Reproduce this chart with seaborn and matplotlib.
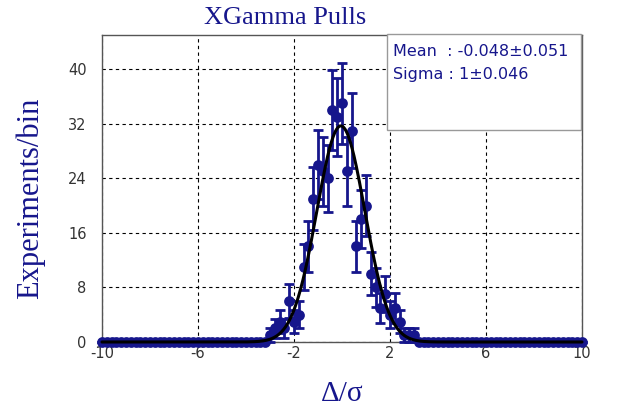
import numpy as np
import pandas as pd
import matplotlib
matplotlib.use("Agg")
import matplotlib.pyplot as plt
import seaborn as sns

# ---- data ----
bin_low = -10.0
bin_high = 10.0
n_points = 101
counts = [
    0, 0, 0, 0, 0, 0, 0, 0, 0, 0,
    0, 0, 0, 0, 0, 0, 0, 0, 0, 0,
    0, 0, 0, 0, 0, 0, 0, 0, 0, 0,
    0, 0, 0, 0, 0,
    1, 2, 3, 2, 6, 3, 4, 11, 14, 21, 26, 25, 24, 34, 33,
    35,
    25, 31, 14, 18, 20, 10, 8, 5, 7, 4, 5, 3, 1, 1, 1,
    0, 0, 0, 0, 0,
    0, 0, 0, 0, 0, 0, 0, 0, 0, 0,
    0, 0, 0, 0, 0, 0, 0, 0, 0, 0,
    0, 0, 0, 0, 0, 0, 0, 0, 0, 0,
]
fit_mean = -0.048
fit_mean_err = 0.051
fit_sigma = 1.0
fit_sigma_err = 0.046
bin_width = 0.2
x_ticks = [-10, -6, -2, 2, 6, 10]
y_ticks = [0, 8, 16, 24, 32, 40]
title = "XGamma Pulls"
x_label = "Δ/σ"
y_label = "Experiments/bin"

centers = np.linspace(bin_low, bin_high, n_points)
df = pd.DataFrame({"x": centers, "n": counts})
df["err"] = np.sqrt(df["n"])

total = float(np.sum(counts))
amp = total * bin_width / (np.sqrt(2 * np.pi) * fit_sigma)
xf = np.linspace(bin_low, bin_high, 801)
fit_df = pd.DataFrame({"x": xf,
                       "y": amp * np.exp(-0.5 * ((xf - fit_mean) / fit_sigma) ** 2)})

# ---- style ----
sns.set_style("white")
plt.rcParams["font.family"] = ["DejaVu Sans"]
navy = "#16168c"

fig = plt.figure(figsize=(6.24, 4.17), dpi=100)
ax = fig.add_axes([102 / 624, 1 - 342 / 417, 480 / 624, 307 / 417])

ax.errorbar(df["x"], df["n"], yerr=df["err"], fmt="none", ecolor=navy,
            elinewidth=2.0, capsize=3.5, capthick=2.0, zorder=3, clip_on=False)
sns.scatterplot(data=df, x="x", y="n", ax=ax, color=navy, s=60,
                edgecolor=navy, linewidth=0, zorder=4, clip_on=False, legend=False)
sns.lineplot(data=fit_df, x="x", y="y", ax=ax, color="black", linewidth=2.2,
             zorder=5, clip_on=False)

ax.set_xlim(bin_low, bin_high)
ax.set_ylim(0, 45)
ax.set_xticks(x_ticks)
ax.set_yticks(y_ticks)
ax.set_xticklabels([str(t) for t in x_ticks])
ax.set_yticklabels([str(t) for t in y_ticks])
ax.tick_params(axis="both", length=0, labelsize=10.5, labelcolor="#333333", pad=3)
ax.tick_params(axis="y", pad=11)
ax.grid(True, color="black", linestyle=(0, (3, 3)), linewidth=0.8)
ax.set_axisbelow(True)
for s in ax.spines.values():
    s.set_color("#555555")
    s.set_linewidth(1.0)
ax.set_xlabel("")
ax.set_ylabel("")

fig.text(285 / 624, 1 - 18 / 417, title, ha="center", va="center",
         family="Liberation Serif", fontsize=19, color=navy)
fig.text(30 / 624, 1 - 198 / 417, y_label, ha="center", va="center", rotation=90,
         family="Liberation Serif", fontsize=22, color=navy)
fig.text(342 / 624, 1 - 394 / 417, x_label, ha="center", va="center",
         family="Liberation Serif", fontsize=21, color=navy)

# stats box
box = plt.Rectangle((387 / 624, 1 - 130 / 417), (581 - 387) / 624, (130 - 34) / 417,
                    transform=fig.transFigure, facecolor="white",
                    edgecolor="#999999", linewidth=1.0, zorder=10)
fig.patches.append(box)
fig.text(393 / 624, 1 - 51 / 417, f"Mean  : {fit_mean}±{fit_mean_err}",
         ha="left", va="center", fontsize=11.5, color=navy, zorder=11)
fig.text(393 / 624, 1 - 75 / 417, f"Sigma : {fit_sigma:g}±{fit_sigma_err}",
         ha="left", va="center", fontsize=11.5, color=navy, zorder=11)

fig.savefig("out.png", dpi=100)
